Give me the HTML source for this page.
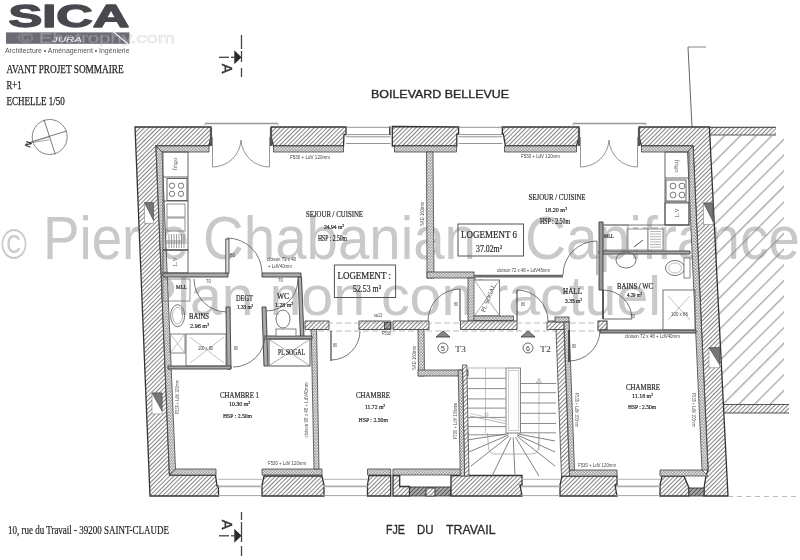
<!DOCTYPE html>
<html><head><meta charset="utf-8"><style>
html,body{margin:0;padding:0;background:#fff;width:800px;height:560px;overflow:hidden}
svg{display:block;filter:blur(0.3px)}
</style></head><body>
<svg width="800" height="560" viewBox="0 0 800 560">
<defs>
<pattern id="hat" patternUnits="userSpaceOnUse" width="3.0" height="3.0" patternTransform="rotate(45)">
<rect width="3.0" height="3.0" fill="#fff"/><line x1="0.5" y1="-1" x2="0.5" y2="4" stroke="#858585" stroke-width="1.05"/></pattern>
<pattern id="hatd" patternUnits="userSpaceOnUse" width="2.9" height="2.9" patternTransform="rotate(45)">
<rect width="2.9" height="2.9" fill="#b0b0b0"/><line x1="0.5" y1="-1" x2="0.5" y2="4" stroke="#555" stroke-width="1"/></pattern>
<pattern id="hat2" patternUnits="userSpaceOnUse" width="11.1" height="11.1" patternTransform="rotate(45)">
<line x1="9.06" y1="-1" x2="9.06" y2="12" stroke="#8a8a8a" stroke-width="1"/></pattern>
<pattern id="band" patternUnits="userSpaceOnUse" x="0" y="146.3" width="3" height="2.6">
<rect width="3" height="2.6" fill="#868686"/><circle cx="0.75" cy="1.3" r="0.85" fill="#f6f6f6"/><circle cx="2.25" cy="2.6" r="0.85" fill="#f6f6f6"/><circle cx="2.25" cy="0" r="0.85" fill="#f6f6f6"/></pattern>
<pattern id="bandv" patternUnits="userSpaceOnUse" x="0" y="0" width="2.6" height="3">
<rect width="2.6" height="3" fill="#868686"/><circle cx="1.3" cy="0.75" r="0.85" fill="#f6f6f6"/><circle cx="2.6" cy="2.25" r="0.85" fill="#f6f6f6"/><circle cx="0" cy="2.25" r="0.85" fill="#f6f6f6"/></pattern>
</defs>
<rect width="800" height="560" fill="#fff"/>
<text x="1" y="258.5" font-family="Liberation Sans" font-size="43" fill="#c9c9c9" text-anchor="start" textLength="26" lengthAdjust="spacingAndGlyphs" >©</text>
<text x="43" y="258.5" font-family="Liberation Sans" font-size="61" fill="#c9c9c9" text-anchor="start" textLength="146" lengthAdjust="spacingAndGlyphs" >Pierre</text>
<text x="203" y="258.5" font-family="Liberation Sans" font-size="61" fill="#c9c9c9" text-anchor="start" textLength="273" lengthAdjust="spacingAndGlyphs" >Chabanian</text>
<text x="525" y="258.5" font-family="Liberation Sans" font-size="61" fill="#c9c9c9" text-anchor="start" textLength="275" lengthAdjust="spacingAndGlyphs" >Capifrance</text>
<text x="139" y="314.5" font-family="Liberation Sans" font-size="56" fill="#c9c9c9" text-anchor="start" textLength="522" lengthAdjust="spacingAndGlyphs" >Plan non contractuel</text>
<g transform="matrix(1 0 0.0 1 -0.000 0)">
<polygon points="709,127 776,127 776,135 709.4,135" fill="url(#hat)" stroke="none" stroke-width="0" />
<line x1="709" y1="127.3" x2="776" y2="127.3" stroke="#333" stroke-width="1.1" />
<line x1="709.4" y1="135" x2="776" y2="135" stroke="#444" stroke-width="0.9" />
<polygon points="709.4,135 784,135 784,404 722.5,404" fill="url(#hat2)" stroke="none"/>
<polygon points="722.5,404.5 789,404.5 789,413 723,413" fill="url(#hat)" stroke="none" stroke-width="0" />
<line x1="722.5" y1="404.5" x2="789" y2="404.5" stroke="#444" stroke-width="0.9" />
<line x1="723" y1="413" x2="789" y2="413" stroke="#444" stroke-width="0.9" />
<polygon points="135,127 211,127 211,137 209,146 156,146 169.5,475 215.5,475 217,486 218.5,486 218.5,496 150,496" fill="url(#hat)" stroke="#333" stroke-width="1.3" />
<polygon points="271,127 346,127 346,134.5 344,134.5 343.5,146 273.5,146 271,137" fill="url(#hat)" stroke="#333" stroke-width="1.3" />
<polygon points="392.3,126.5 458.6,127 458.6,134.2 456.8,134.2 456.8,146 392.3,146" fill="url(#hat)" stroke="#333" stroke-width="1.3" />
<polygon points="502.3,127 579,127 579,137 576.5,146 505.4,146 503.4,134.2 502.3,134.2" fill="url(#hat)" stroke="#333" stroke-width="1.3" />
<polygon points="639,127 709.4,127 728,496 704,496 704,488 706,476 708,470 693,146 641.5,146 639,137" fill="url(#hat)" stroke="#333" stroke-width="1.3" />
<polygon points="262,496 262,485 264,476 322,476 324,485 324,496" fill="url(#hat)" stroke="#333" stroke-width="1.3" />
<polygon points="367.5,496 367.5,485 369,475.5 390.7,475.5 390.7,496" fill="url(#hat)" stroke="#333" stroke-width="1.3" />
<polygon points="393,475.5 399.7,475.5 399.7,486.5 409.5,486.5 409.5,496 393,496" fill="url(#hat)" stroke="#333" stroke-width="1.3" />
<polygon points="409.5,487 451,487 451,496 409.5,496" fill="url(#hatd)" stroke="#333" stroke-width="0.9" />
<rect x="426" y="488" width="9" height="8" fill="url(#hat)" stroke="#333" stroke-width="0.9" />
<polygon points="451,475.5 522,475.5 522,485 520,485 522,496 451,496" fill="url(#hat)" stroke="#333" stroke-width="1.3" />
<polygon points="560,496 560,485 562,476 617,476 617,485 615,485 617,496" fill="url(#hat)" stroke="#333" stroke-width="1.3" />
<polygon points="660,496 660,485 662,476 684,476 689,488 689,496" fill="url(#hat)" stroke="#333" stroke-width="1.3" />
<polygon points="689,488 704,488 704,496 689,496" fill="url(#hatd)" stroke="#333" stroke-width="0.9" />
<polygon points="156,146 209,146 209,152 162,152" fill="url(#band)" stroke="#444" stroke-width="0.8" />
<polygon points="273.5,146 343.5,146 343.5,152 273.5,152" fill="url(#band)" stroke="#444" stroke-width="0.8" />
<polygon points="394.5,146 456.5,146 456.5,152 394.5,152" fill="url(#band)" stroke="#444" stroke-width="0.8" />
<polygon points="504.5,146 576.5,146 576.5,152 504.5,152" fill="url(#band)" stroke="#444" stroke-width="0.8" />
<polygon points="641.5,146 693,146 687.5,152 641.5,152" fill="url(#band)" stroke="#444" stroke-width="0.8" />
<polygon points="156,146 162,152 175.5,469 169.5,475" fill="url(#bandv)" stroke="#444" stroke-width="0.8" />
<polygon points="693,146 708,470 702,470 687.5,152" fill="url(#bandv)" stroke="#444" stroke-width="0.8" />
<polygon points="169.5,475 175.5,469 216,469 216,475" fill="url(#band)" stroke="#444" stroke-width="0.8" />
<polygon points="262,469 322,469 322,475 262,475" fill="url(#band)" stroke="#444" stroke-width="0.8" />
<polygon points="367.5,469 390.7,469 390.7,475 367.5,475" fill="url(#band)" stroke="#444" stroke-width="0.8" />
<polygon points="393,469 465,469 465,475 393,475" fill="url(#band)" stroke="#444" stroke-width="0.8" />
<polygon points="569,470 617,470 617,476 569,476" fill="url(#band)" stroke="#444" stroke-width="0.8" />
<polygon points="660,470 702,470 708,476 660,476" fill="url(#band)" stroke="#444" stroke-width="0.8" />
</g>
<g transform="matrix(1 0 0.0 1 -0.000 0)">
<line x1="346" y1="127.3" x2="390.5" y2="127.3" stroke="#888" stroke-width="0.9" />
<line x1="346" y1="134.6" x2="390.5" y2="134.6" stroke="#888" stroke-width="0.9" />
<line x1="346" y1="136.8" x2="390.5" y2="136.8" stroke="#888" stroke-width="0.9" />
<line x1="346" y1="143.5" x2="390.5" y2="143.5" stroke="#888" stroke-width="0.9" />
<line x1="458.6" y1="127.3" x2="502.3" y2="127.3" stroke="#888" stroke-width="0.9" />
<line x1="458.6" y1="134.6" x2="502.3" y2="134.6" stroke="#888" stroke-width="0.9" />
<line x1="458.6" y1="136.8" x2="502.3" y2="136.8" stroke="#888" stroke-width="0.9" />
<line x1="458.6" y1="143.5" x2="502.3" y2="143.5" stroke="#888" stroke-width="0.9" />
<line x1="389.8" y1="126.5" x2="389.8" y2="135" stroke="#444" stroke-width="1.5" />
<line x1="218" y1="479.3" x2="262" y2="479.3" stroke="#aaa" stroke-width="0.9" />
<line x1="218" y1="486.4" x2="262" y2="486.4" stroke="#b0b0b0" stroke-width="1.8" />
<line x1="218" y1="495.6" x2="262" y2="495.6" stroke="#999" stroke-width="0.9" />
<line x1="323" y1="479.3" x2="367.5" y2="479.3" stroke="#aaa" stroke-width="0.9" />
<line x1="323" y1="486.4" x2="367.5" y2="486.4" stroke="#b0b0b0" stroke-width="1.8" />
<line x1="323" y1="495.6" x2="367.5" y2="495.6" stroke="#999" stroke-width="0.9" />
<line x1="521" y1="479.3" x2="560" y2="479.3" stroke="#aaa" stroke-width="0.9" />
<line x1="521" y1="486.4" x2="560" y2="486.4" stroke="#b0b0b0" stroke-width="1.8" />
<line x1="521" y1="495.6" x2="560" y2="495.6" stroke="#999" stroke-width="0.9" />
<line x1="616" y1="479.3" x2="660" y2="479.3" stroke="#aaa" stroke-width="0.9" />
<line x1="616" y1="486.4" x2="660" y2="486.4" stroke="#b0b0b0" stroke-width="1.8" />
<line x1="616" y1="495.6" x2="660" y2="495.6" stroke="#999" stroke-width="0.9" />
<line x1="205" y1="123.5" x2="278" y2="123.5" stroke="#999" stroke-width="1.3" />
<line x1="211" y1="128" x2="211" y2="146" stroke="#555" stroke-width="2.2" />
<line x1="271" y1="128" x2="271" y2="146" stroke="#555" stroke-width="2.2" />
<line x1="212.5" y1="137" x2="212.5" y2="167" stroke="#999" stroke-width="1.0" />
<line x1="269.5" y1="137" x2="269.5" y2="167" stroke="#999" stroke-width="1.0" />
<line x1="205" y1="123.5" x2="205" y2="127" stroke="#aaa" stroke-width="0.8" />
<line x1="278" y1="123.5" x2="278" y2="127" stroke="#aaa" stroke-width="0.8" />
<path d="M212.5,167 A28.5,28.5 0 0 0 241,140" stroke="#888" stroke-width="0.9" fill="none" />
<path d="M269.5,167 A28.5,28.5 0 0 1 241,140" stroke="#888" stroke-width="0.9" fill="none" />
<line x1="573" y1="123.5" x2="646" y2="123.5" stroke="#999" stroke-width="1.3" />
<line x1="579" y1="128" x2="579" y2="146" stroke="#555" stroke-width="2.2" />
<line x1="639" y1="128" x2="639" y2="146" stroke="#555" stroke-width="2.2" />
<line x1="580.5" y1="137" x2="580.5" y2="167" stroke="#999" stroke-width="1.0" />
<line x1="637.5" y1="137" x2="637.5" y2="167" stroke="#999" stroke-width="1.0" />
<line x1="573" y1="123.5" x2="573" y2="127" stroke="#aaa" stroke-width="0.8" />
<line x1="646" y1="123.5" x2="646" y2="127" stroke="#aaa" stroke-width="0.8" />
<path d="M580.5,167 A28.5,28.5 0 0 0 609,140" stroke="#888" stroke-width="0.9" fill="none" />
<path d="M637.5,167 A28.5,28.5 0 0 1 609,140" stroke="#888" stroke-width="0.9" fill="none" />
<polygon points="426.5,152 433,152 434,278 427,278" fill="url(#bandv)" stroke="#444" stroke-width="0.8" />
<rect x="427" y="272" width="47" height="6" fill="url(#band)" stroke="#444" stroke-width="0.8" />
<rect x="468" y="278" width="7" height="43" fill="url(#bandv)" stroke="#444" stroke-width="0.8" />
<line x1="474" y1="276.2" x2="563" y2="276.2" stroke="#6a6a6a" stroke-width="2.8" />
<rect x="474" y="280" width="25.6" height="36" fill="#fff" stroke="#666" stroke-width="0.9" />
<line x1="475" y1="281" x2="499" y2="315" stroke="#888" stroke-width="0.7" />
<line x1="499" y1="281" x2="475" y2="315" stroke="#888" stroke-width="0.7" />
<rect x="474" y="316" width="39.6" height="4.4" fill="url(#band)" stroke="#444" stroke-width="0.8" />
<polygon points="305,321 329,321 329,329.5 305,329.5" fill="url(#hat)" stroke="#444" stroke-width="0.9" />
<polygon points="359,321 391,321 391,329.5 359,329.5" fill="url(#hat)" stroke="#444" stroke-width="0.9" />
<polygon points="393,321 429,321 429,329.5 393,329.5" fill="url(#hat)" stroke="#444" stroke-width="0.9" />
<polygon points="460.5,321 517,321 517,329.5 460.5,329.5" fill="url(#hat)" stroke="#444" stroke-width="0.9" />
<polygon points="548.5,321 569,321 569,329.5 548.5,329.5" fill="url(#hat)" stroke="#444" stroke-width="0.9" />
<rect x="598" y="321" width="9" height="9" fill="url(#hat)" stroke="#333" stroke-width="1.0" />
<line x1="300" y1="323" x2="600" y2="323" stroke="#aaa" stroke-width="0.8" stroke-dasharray="6 3"/>
<line x1="300" y1="331" x2="600" y2="331" stroke="#aaa" stroke-width="0.8" stroke-dasharray="6 3"/>
<polygon points="311.2,329.5 316.6,329.5 319,469 314,469" fill="url(#bandv)" stroke="#444" stroke-width="0.8" />
<polygon points="418,329.5 424,329.5 424.5,376 418.5,376" fill="url(#bandv)" stroke="#444" stroke-width="0.8" />
<rect x="418" y="370" width="50" height="6" fill="url(#band)" stroke="#444" stroke-width="0.8" />
<polygon points="462.5,365 466.8,365 469,476 464.6,476" fill="url(#hat)" stroke="#444" stroke-width="0.8" />
<polygon points="458.2,370 462.5,370 464.6,476 460.3,476" fill="url(#bandv)" stroke="#444" stroke-width="0.8" />
<rect x="547" y="322" width="17" height="7.5" fill="url(#hat)" stroke="#444" stroke-width="0.8" />
<rect x="555" y="317" width="14" height="5" fill="url(#band)" stroke="#444" stroke-width="0.8" />
<polygon points="556,329.5 564,329.5 569.5,476 561.5,476" fill="url(#hat)" stroke="#444" stroke-width="0.8" />
<polygon points="564,322 569,322 574.5,470 569.5,470" fill="url(#bandv)" stroke="#444" stroke-width="0.8" />
<line x1="569" y1="330" x2="569" y2="362" stroke="#333" stroke-width="1.6" />
<polygon points="163,273 228,273 228,277 163,277" fill="#aaa" stroke="#3a3a3a" stroke-width="0.9" />
<polygon points="262,273 301,273 301,277 262,277" fill="#aaa" stroke="#3a3a3a" stroke-width="0.9" />
<rect x="225.8" y="239" width="3.2" height="34" fill="#ddd" stroke="#333" stroke-width="0.8" />
<polygon points="298,277 301.5,277 304,338 300.5,338" fill="#aaa" stroke="#3a3a3a" stroke-width="0.9" />
<polygon points="226,307 230,307 231,369 227,369" fill="#aaa" stroke="#3a3a3a" stroke-width="0.9" />
<polygon points="262,307 266,307 268,366 264,366" fill="#aaa" stroke="#3a3a3a" stroke-width="0.9" />
<polygon points="168,366 231,366 231,369 168,369" fill="#aaa" stroke="#3a3a3a" stroke-width="0.9" />
<polygon points="266,336 312,336 312,339 266,339" fill="#aaa" stroke="#3a3a3a" stroke-width="0.9" />
<rect x="269" y="339" width="41" height="27" fill="none" stroke="#555" stroke-width="1.0" />
<line x1="270" y1="340" x2="309" y2="365" stroke="#888" stroke-width="0.7" />
<line x1="309" y1="340" x2="270" y2="365" stroke="#888" stroke-width="0.7" />
<rect x="163" y="152" width="25" height="98" fill="none" stroke="#555" stroke-width="0.9" />
<line x1="163" y1="177" x2="188" y2="177" stroke="#555" stroke-width="0.9" />
<rect x="167" y="178.5" width="20" height="22" fill="none" stroke="#555" stroke-width="0.9" />
<line x1="163" y1="201" x2="188" y2="201" stroke="#555" stroke-width="0.9" />
<rect x="167" y="204" width="18" height="13" fill="none" stroke="#777" stroke-width="0.8" />
<rect x="167" y="218" width="18" height="13" fill="none" stroke="#777" stroke-width="0.8" />
<line x1="163" y1="250" x2="188" y2="250" stroke="#555" stroke-width="0.9" />
<rect x="163" y="250" width="25" height="23" fill="none" stroke="#555" stroke-width="0.9" />
<line x1="169" y1="234" x2="169" y2="248" stroke="#777" stroke-width="0.7" />
<line x1="171.5" y1="234" x2="171.5" y2="248" stroke="#777" stroke-width="0.7" />
<line x1="174" y1="234" x2="174" y2="248" stroke="#777" stroke-width="0.7" />
<line x1="176.5" y1="234" x2="176.5" y2="248" stroke="#777" stroke-width="0.7" />
<line x1="179" y1="234" x2="179" y2="248" stroke="#777" stroke-width="0.7" />
<line x1="181.5" y1="234" x2="181.5" y2="248" stroke="#777" stroke-width="0.7" />
<line x1="184" y1="234" x2="184" y2="248" stroke="#777" stroke-width="0.7" />
<rect x="665" y="152" width="24" height="73" fill="none" stroke="#555" stroke-width="0.9" />
<line x1="665" y1="178" x2="689" y2="178" stroke="#555" stroke-width="0.9" />
<rect x="666" y="180" width="20" height="21" fill="none" stroke="#555" stroke-width="0.9" />
<line x1="665" y1="202" x2="689" y2="202" stroke="#555" stroke-width="0.9" />
<line x1="600" y1="225" x2="690" y2="225" stroke="#666" stroke-width="0.9" />
<polygon points="599,251 690,251 690,254 599,254" fill="#aaa" stroke="#3a3a3a" stroke-width="0.9" />
<polygon points="599,222 603,222 603,290 599,290" fill="#999" stroke="#3a3a3a" stroke-width="0.9" />
<rect x="627" y="229" width="21" height="21" fill="#fff" stroke="#777" stroke-width="0.8" />
<rect x="648" y="229" width="15" height="21" fill="#fff" stroke="#777" stroke-width="0.8" />
<line x1="650" y1="231.5" x2="661" y2="231.5" stroke="#888" stroke-width="0.6" />
<line x1="650" y1="234.1" x2="661" y2="234.1" stroke="#888" stroke-width="0.6" />
<line x1="650" y1="236.7" x2="661" y2="236.7" stroke="#888" stroke-width="0.6" />
<line x1="650" y1="239.3" x2="661" y2="239.3" stroke="#888" stroke-width="0.6" />
<line x1="650" y1="241.9" x2="661" y2="241.9" stroke="#888" stroke-width="0.6" />
<line x1="650" y1="244.5" x2="661" y2="244.5" stroke="#888" stroke-width="0.6" />
<line x1="650" y1="247.1" x2="661" y2="247.1" stroke="#888" stroke-width="0.6" />
<line x1="634" y1="247" x2="643" y2="240" stroke="#555" stroke-width="1.0" />
<polygon points="600,330 696,330 696,333 600,333" fill="#999" stroke="#3a3a3a" stroke-width="0.9" />
<rect x="663" y="290" width="32" height="40" fill="none" stroke="#666" stroke-width="0.9" />
</g>
<rect x="384.5" y="322.5" width="6" height="6.5" fill="url(#hatd)" stroke="#333" stroke-width="0.8" />
<g transform="matrix(1 0 0.0 1 -0.000 0)">
<path d="M227,238 A35,35 0 0 1 262,273" stroke="#555" stroke-width="0.8" fill="none" />
<path d="M227,312 A33,33 0 0 1 194,279" stroke="#555" stroke-width="0.8" fill="none" />
<path d="M265,335 A32,32 0 0 1 233,367" stroke="#555" stroke-width="0.8" fill="none" />
<path d="M298,279 A32,32 0 0 1 266,311" stroke="#555" stroke-width="0.8" fill="none" />
<path d="M360,331 A29,29 0 0 1 331,360" stroke="#555" stroke-width="0.8" fill="none" />
<line x1="331" y1="331" x2="331" y2="361" stroke="#444" stroke-width="1.2" />
<path d="M428,321 A32,32 0 0 1 460,289" stroke="#555" stroke-width="0.8" fill="none" />
<line x1="460" y1="289" x2="460" y2="321" stroke="#444" stroke-width="1.1" />
<path d="M517,290 A31,31 0 0 1 548,321" stroke="#555" stroke-width="0.8" fill="none" />
<line x1="517" y1="290" x2="517" y2="321" stroke="#444" stroke-width="1.1" />
<path d="M600,330 A31,31 0 0 1 569,361" stroke="#555" stroke-width="0.8" fill="none" />
<path d="M603,290 A29,29 0 0 1 632,319" stroke="#555" stroke-width="0.8" fill="none" />
<line x1="603" y1="290" x2="603" y2="319" stroke="#333" stroke-width="1.6" />
<line x1="603" y1="319" x2="632" y2="319" stroke="#555" stroke-width="0.9" />
<path d="M563,275 A34,34 0 0 1 597,241" stroke="#555" stroke-width="0.8" fill="none" />
<line x1="597" y1="241" x2="597" y2="275" stroke="#666" stroke-width="0.9" />
<ellipse cx="177.6" cy="315.7" rx="7" ry="11" fill="none" stroke="#666" stroke-width="0.9"/>
<ellipse cx="177.6" cy="315.7" rx="5" ry="8.5" fill="none" stroke="#888" stroke-width="0.6"/>
<ellipse cx="283" cy="319" rx="7" ry="9" fill="none" stroke="#666" stroke-width="0.9"/>
<rect x="276" y="329" width="20" height="7" fill="#fff" stroke="#666" stroke-width="0.8" />
<ellipse cx="626" cy="260" rx="10" ry="8" fill="none" stroke="#666" stroke-width="0.9"/>
<ellipse cx="675" cy="268" rx="9.5" ry="7.5" fill="#fff" stroke="#666" stroke-width="0.9"/>
<ellipse cx="675" cy="268" rx="6.5" ry="5" fill="none" stroke="#999" stroke-width="0.6"/>
<rect x="684" y="258" width="6" height="20" fill="#fff" stroke="#666" stroke-width="0.8" />
<circle cx="172" cy="185.7" r="2.7" fill="none" stroke="#555" stroke-width="0.8"/>
<circle cx="181" cy="185.7" r="2.7" fill="none" stroke="#555" stroke-width="0.8"/>
<circle cx="172" cy="193.8" r="2.7" fill="none" stroke="#555" stroke-width="0.8"/>
<circle cx="181" cy="193.8" r="2.7" fill="none" stroke="#555" stroke-width="0.8"/>
<circle cx="673" cy="186" r="2.9" fill="none" stroke="#555" stroke-width="0.8"/>
<circle cx="682" cy="186" r="2.9" fill="none" stroke="#555" stroke-width="0.8"/>
<circle cx="673" cy="195" r="2.9" fill="none" stroke="#555" stroke-width="0.8"/>
<circle cx="682" cy="195" r="2.9" fill="none" stroke="#555" stroke-width="0.8"/>
<rect x="186" y="334" width="40" height="32" fill="none" stroke="#666" stroke-width="0.9" />
<line x1="190" y1="337" x2="224" y2="363" stroke="#999" stroke-width="0.6" />
<line x1="224" y1="337" x2="190" y2="363" stroke="#999" stroke-width="0.6" />
<rect x="170" y="334" width="15" height="19" fill="none" stroke="#666" stroke-width="0.8" />
<line x1="171" y1="335" x2="184" y2="352" stroke="#999" stroke-width="0.6" />
<line x1="184" y1="335" x2="171" y2="352" stroke="#999" stroke-width="0.6" />
<line x1="668" y1="296" x2="690" y2="320" stroke="#999" stroke-width="0.6" />
<line x1="690" y1="296" x2="668" y2="320" stroke="#999" stroke-width="0.6" />
<rect x="163" y="279" width="27" height="22" fill="none" stroke="#777" stroke-width="0.8" />
<rect x="603" y="225" width="25" height="25" fill="none" stroke="#777" stroke-width="0.8" />
<rect x="665" y="203" width="24" height="22" fill="none" stroke="#555" stroke-width="0.9" />
<rect x="144.5" y="202.7" width="8.9" height="20.5" fill="#fff" stroke="#888" stroke-width="0.6" />
<polygon points="144.5,202.7 153.4,202.7 153.4,220.2" fill="#777" stroke="#444" stroke-width="0.6"/>
<rect x="152" y="393" width="10" height="21" fill="#fff" stroke="#888" stroke-width="0.6" />
<polygon points="152,393 162,393 162,411" fill="#777" stroke="#444" stroke-width="0.6"/>
<rect x="703.6" y="203" width="9.4" height="21.4" fill="#fff" stroke="#888" stroke-width="0.6" />
<polygon points="703.6,203 713,203 713,221.4" fill="#777" stroke="#444" stroke-width="0.6"/>
<rect x="709" y="347.7" width="10.7" height="20.1" fill="#fff" stroke="#888" stroke-width="0.6" />
<polygon points="709,347.7 719.7,347.7 719.7,364.8" fill="#777" stroke="#444" stroke-width="0.6"/>
<line x1="467" y1="378.3" x2="505.7" y2="378.3" stroke="#777" stroke-width="0.85" />
<line x1="467" y1="388.6" x2="505.7" y2="388.6" stroke="#777" stroke-width="0.85" />
<line x1="467" y1="398.9" x2="505.7" y2="398.9" stroke="#777" stroke-width="0.85" />
<line x1="467" y1="408.1" x2="505.7" y2="408.1" stroke="#777" stroke-width="0.85" />
<line x1="467" y1="417.4" x2="505.7" y2="417.4" stroke="#777" stroke-width="0.85" />
<line x1="467" y1="426.6" x2="505.7" y2="426.6" stroke="#777" stroke-width="0.85" />
<line x1="467" y1="434.8" x2="505.7" y2="434.8" stroke="#777" stroke-width="0.85" />
<line x1="520.5" y1="383.5" x2="556" y2="383.5" stroke="#777" stroke-width="0.85" />
<line x1="520.5" y1="392.7" x2="556" y2="392.7" stroke="#777" stroke-width="0.85" />
<line x1="520.5" y1="403" x2="556" y2="403" stroke="#777" stroke-width="0.85" />
<line x1="520.5" y1="413.3" x2="556" y2="413.3" stroke="#777" stroke-width="0.85" />
<line x1="520.5" y1="423.5" x2="556" y2="423.5" stroke="#777" stroke-width="0.85" />
<line x1="520.5" y1="432.8" x2="556" y2="432.8" stroke="#777" stroke-width="0.85" />
<line x1="467" y1="368" x2="505.7" y2="368" stroke="#999" stroke-width="0.7" />
<rect x="506" y="368" width="14.5" height="65" fill="#fff" stroke="#777" stroke-width="0.9" />
<rect x="508.3" y="370.5" width="10.5" height="60" fill="none" stroke="#aaa" stroke-width="0.6" />
<line x1="508.4" y1="433.7" x2="467" y2="440" stroke="#6c6c6c" stroke-width="0.85" />
<line x1="508.6" y1="434.9" x2="469" y2="452" stroke="#6c6c6c" stroke-width="0.85" />
<line x1="508.8" y1="436.3" x2="471" y2="466" stroke="#6c6c6c" stroke-width="0.85" />
<line x1="510.9" y1="437.3" x2="492" y2="476" stroke="#6c6c6c" stroke-width="0.85" />
<line x1="513.2" y1="437.3" x2="515" y2="476" stroke="#6c6c6c" stroke-width="0.85" />
<line x1="515.6" y1="437.3" x2="539" y2="476" stroke="#6c6c6c" stroke-width="0.85" />
<line x1="517.2" y1="436.3" x2="555" y2="466" stroke="#6c6c6c" stroke-width="0.85" />
<line x1="517.2" y1="434.9" x2="555" y2="452" stroke="#6c6c6c" stroke-width="0.85" />
<line x1="517.2" y1="433.8" x2="555" y2="441" stroke="#6c6c6c" stroke-width="0.85" />
<path d="M487.5,433 L488.5,448 Q489,454 495,454 L531,454 Q538,454 538.5,448 L539,433" stroke="#9a9a9a" stroke-width="0.7" fill="none" />
<line x1="485.5" y1="368" x2="485.5" y2="433" stroke="#999" stroke-width="0.6" />
<line x1="539" y1="379" x2="539" y2="450" stroke="#999" stroke-width="0.6" />
<polygon points="536.5,383 539,378.5 541.5,383" fill="none" stroke="#888" stroke-width="0.6"/>
<line x1="470" y1="416" x2="505" y2="423.5" stroke="#999" stroke-width="0.7" />
<line x1="470" y1="413.5" x2="505" y2="421" stroke="#aaa" stroke-width="0.6" />
<circle cx="486.6" cy="414.5" r="1.6" fill="none" stroke="#888" stroke-width="0.6"/>
</g>
<line x1="688" y1="47" x2="692" y2="127" stroke="#555" stroke-width="0.9" />
<line x1="688" y1="47" x2="706" y2="47" stroke="#777" stroke-width="0.9" />
<line x1="728" y1="496.5" x2="796" y2="496.5" stroke="#aaa" stroke-width="0.8" stroke-dasharray="5 4"/>
<text x="8.4" y="27" font-family="Liberation Sans" font-size="30.5" fill="#48484f" text-anchor="start" textLength="121" lengthAdjust="spacingAndGlyphs" font-weight="bold" stroke="#48484f" stroke-width="1.3" stroke-linejoin="round">SICA</text>
<rect x="6" y="32.4" width="123.5" height="11.4" fill="#6b6b75" stroke="none" stroke-width="1.0" />
<text x="52" y="41.8" font-family="Liberation Sans" font-size="7.5" fill="#fff" text-anchor="start" textLength="30" lengthAdjust="spacingAndGlyphs" font-style="italic">JURA</text>
<line x1="113" y1="31.5" x2="128" y2="44" stroke="#fff" stroke-width="1.1" />
<text x="5" y="52.8" font-family="Liberation Sans" font-size="7.4" fill="#555" text-anchor="start" textLength="124.5" lengthAdjust="spacingAndGlyphs" >Architecture • Aménagement • Ingénierie</text>
<text x="18" y="42.5" font-family="Liberation Sans" font-size="15" fill="#fff" text-anchor="start" textLength="157" lengthAdjust="spacingAndGlyphs" opacity="0.35" stroke="#aaa" stroke-width="0.7">© Ehotrophy.com</text>
<text x="6.5" y="73.2" font-family="Liberation Serif" font-size="11.8" fill="#222" text-anchor="start" textLength="117.2" lengthAdjust="spacingAndGlyphs" stroke="#222" stroke-width="0.25">AVANT PROJET SOMMAIRE</text>
<text x="6.5" y="89" font-family="Liberation Serif" font-size="11.8" fill="#222" text-anchor="start" textLength="15" lengthAdjust="spacingAndGlyphs" stroke="#222" stroke-width="0.25">R+1</text>
<text x="6.5" y="105" font-family="Liberation Serif" font-size="11.8" fill="#222" text-anchor="start" textLength="58.2" lengthAdjust="spacingAndGlyphs" stroke="#222" stroke-width="0.25">ECHELLE 1/50</text>
<circle cx="49.7" cy="137" r="17.5" fill="none" stroke="#777" stroke-width="0.9"/>
<line x1="44" y1="119.7" x2="55.3" y2="154.3" stroke="#555" stroke-width="0.8" />
<line x1="26" y1="143.5" x2="66.5" y2="131" stroke="#555" stroke-width="0.8" />
<line x1="29" y1="143" x2="49.7" y2="137" stroke="#777" stroke-width="0.6" />
<line x1="29" y1="143" x2="49" y2="140" stroke="#777" stroke-width="0.6" />
<text transform="translate(28.5,144.5) rotate(-68)" font-family="Liberation Sans" font-size="8" fill="#222" stroke="#222" stroke-width="0.3" text-anchor="middle" dominant-baseline="central">N</text>
<line x1="241.5" y1="35" x2="241.5" y2="49" stroke="#444" stroke-width="1.3" />
<line x1="241.5" y1="51" x2="241.5" y2="62" stroke="#444" stroke-width="1.3" />
<line x1="241.5" y1="68" x2="241.5" y2="77" stroke="#444" stroke-width="1.3" />
<polygon points="241.5,57.3 234.3,50.3 234.3,64.3" fill="#2a2a2a"/>
<line x1="219" y1="57.3" x2="229" y2="57.3" stroke="#444" stroke-width="1.3" />
<line x1="231" y1="57.3" x2="236" y2="57.3" stroke="#444" stroke-width="1.3" />
<text transform="translate(226.5,68.5) rotate(90)" x="0" y="0" font-family="Liberation Sans" font-size="14.5" fill="#333" stroke="#333" stroke-width="0.5" text-anchor="middle" dominant-baseline="central">A</text>
<line x1="241.5" y1="512" x2="241.5" y2="520" stroke="#444" stroke-width="1.3" />
<line x1="241.5" y1="522" x2="241.5" y2="542" stroke="#444" stroke-width="1.3" />
<line x1="241.5" y1="546" x2="241.5" y2="556" stroke="#444" stroke-width="1.3" />
<polygon points="241.5,535.8 234.3,528.8 234.3,542.8" fill="#2a2a2a"/>
<line x1="219" y1="535.8" x2="229" y2="535.8" stroke="#444" stroke-width="1.3" />
<line x1="231" y1="535.8" x2="236" y2="535.8" stroke="#444" stroke-width="1.3" />
<text transform="translate(226.5,524.7) rotate(90)" x="0" y="0" font-family="Liberation Sans" font-size="14.5" fill="#333" stroke="#333" stroke-width="0.5" text-anchor="middle" dominant-baseline="central">A</text>
<text x="371" y="98.2" font-family="Liberation Sans" font-size="11" fill="#2a2a2a" text-anchor="start" textLength="138" lengthAdjust="spacingAndGlyphs" stroke="#2a2a2a" stroke-width="0.35">BOILEVARD BELLEVUE</text>
<text x="386" y="534.2" font-family="Liberation Sans" font-size="12.6" fill="#2a2a2a" text-anchor="start" textLength="19" lengthAdjust="spacingAndGlyphs" stroke="#2a2a2a" stroke-width="0.3">FJE</text>
<text x="417" y="534.2" font-family="Liberation Sans" font-size="12.6" fill="#2a2a2a" text-anchor="start" textLength="16.5" lengthAdjust="spacingAndGlyphs" stroke="#2a2a2a" stroke-width="0.3">DU</text>
<text x="446" y="534.2" font-family="Liberation Sans" font-size="12.6" fill="#2a2a2a" text-anchor="start" textLength="49.5" lengthAdjust="spacingAndGlyphs" stroke="#2a2a2a" stroke-width="0.3">TRAVAIL</text>
<text x="8" y="534" font-family="Liberation Serif" font-size="12" fill="#222" text-anchor="start" textLength="161" lengthAdjust="spacingAndGlyphs" stroke="#222" stroke-width="0.2">10, rue du Travail - 39200 SAINT-CLAUDE</text>
<text x="306" y="217.2" font-family="Liberation Serif" font-size="9" fill="#2a2a2a" text-anchor="start" textLength="57" lengthAdjust="spacingAndGlyphs" stroke="#2a2a2a" stroke-width="0.22">SEJOUR / CUISINE</text>
<text x="324" y="229.2" font-family="Liberation Serif" font-size="6.8" fill="#2a2a2a" text-anchor="start" textLength="20" lengthAdjust="spacingAndGlyphs" stroke="#2a2a2a" stroke-width="0.22">24.94 m²</text>
<text x="318" y="241.2" font-family="Liberation Serif" font-size="7.2" fill="#2a2a2a" text-anchor="start" textLength="29" lengthAdjust="spacingAndGlyphs" stroke="#2a2a2a" stroke-width="0.22">HSP : 2.50m</text>
<rect x="334.4" y="265" width="61.2" height="32.5" fill="none" stroke="#555" stroke-width="1.0" />
<text x="337.6" y="279.4" font-family="Liberation Serif" font-size="11" fill="#2a2a2a" text-anchor="start" textLength="53.4" lengthAdjust="spacingAndGlyphs" stroke="#2a2a2a" stroke-width="0.22">LOGEMENT :</text>
<text x="353" y="291.8" font-family="Liberation Serif" font-size="10.5" fill="#2a2a2a" text-anchor="start" textLength="28" lengthAdjust="spacingAndGlyphs" stroke="#2a2a2a" stroke-width="0.22">52.53 m²</text>
<text x="236" y="300.8" font-family="Liberation Serif" font-size="8" fill="#2a2a2a" text-anchor="start" textLength="17" lengthAdjust="spacingAndGlyphs" stroke="#2a2a2a" stroke-width="0.22">DEGT</text>
<text x="237" y="308.8" font-family="Liberation Serif" font-size="6.5" fill="#2a2a2a" text-anchor="start" textLength="16" lengthAdjust="spacingAndGlyphs" stroke="#2a2a2a" stroke-width="0.22">1.33 m²</text>
<text x="277" y="298.8" font-family="Liberation Serif" font-size="8" fill="#2a2a2a" text-anchor="start" textLength="12" lengthAdjust="spacingAndGlyphs" stroke="#2a2a2a" stroke-width="0.22">WC</text>
<text x="275" y="306.8" font-family="Liberation Serif" font-size="6.5" fill="#2a2a2a" text-anchor="start" textLength="18" lengthAdjust="spacingAndGlyphs" stroke="#2a2a2a" stroke-width="0.22">1.28 m²</text>
<text x="176" y="289.3" font-family="Liberation Serif" font-size="6" fill="#2a2a2a" text-anchor="start" textLength="11" lengthAdjust="spacingAndGlyphs" stroke="#2a2a2a" stroke-width="0.22">MLL</text>
<text x="189" y="318.8" font-family="Liberation Serif" font-size="8.3" fill="#2a2a2a" text-anchor="start" textLength="20" lengthAdjust="spacingAndGlyphs" stroke="#2a2a2a" stroke-width="0.22">BAINS</text>
<text x="190" y="327.8" font-family="Liberation Serif" font-size="7" fill="#2a2a2a" text-anchor="start" textLength="19" lengthAdjust="spacingAndGlyphs" stroke="#2a2a2a" stroke-width="0.22">2.96 m²</text>
<text x="278" y="354.8" font-family="Liberation Serif" font-size="7.5" fill="#2a2a2a" text-anchor="start" textLength="27" lengthAdjust="spacingAndGlyphs" stroke="#2a2a2a" stroke-width="0.22">PL SOGAL</text>
<text x="220" y="398.2" font-family="Liberation Serif" font-size="9" fill="#2a2a2a" text-anchor="start" textLength="39" lengthAdjust="spacingAndGlyphs" stroke="#2a2a2a" stroke-width="0.22">CHAMBRE 1</text>
<text x="229" y="406.3" font-family="Liberation Serif" font-size="6.5" fill="#2a2a2a" text-anchor="start" textLength="21" lengthAdjust="spacingAndGlyphs" stroke="#2a2a2a" stroke-width="0.22">10.30 m²</text>
<text x="223" y="417.5" font-family="Liberation Serif" font-size="7" fill="#2a2a2a" text-anchor="start" textLength="29" lengthAdjust="spacingAndGlyphs" stroke="#2a2a2a" stroke-width="0.22">HSP : 2.50m</text>
<text x="356" y="397.8" font-family="Liberation Serif" font-size="9" fill="#2a2a2a" text-anchor="start" textLength="34" lengthAdjust="spacingAndGlyphs" stroke="#2a2a2a" stroke-width="0.22">CHAMBRE</text>
<text x="365" y="409.3" font-family="Liberation Serif" font-size="6.5" fill="#2a2a2a" text-anchor="start" textLength="20" lengthAdjust="spacingAndGlyphs" stroke="#2a2a2a" stroke-width="0.22">11.72 m²</text>
<text x="358.5" y="422" font-family="Liberation Serif" font-size="7" fill="#2a2a2a" text-anchor="start" textLength="29.5" lengthAdjust="spacingAndGlyphs" stroke="#2a2a2a" stroke-width="0.22">HSP : 2.50m</text>
<rect x="458" y="224" width="65.5" height="32" fill="none" stroke="#555" stroke-width="1.0" />
<text x="461" y="238.3" font-family="Liberation Serif" font-size="11" fill="#2a2a2a" text-anchor="start" textLength="56" lengthAdjust="spacingAndGlyphs" stroke="#2a2a2a" stroke-width="0.22">LOGEMENT 6</text>
<text x="476" y="252.3" font-family="Liberation Serif" font-size="10.5" fill="#2a2a2a" text-anchor="start" textLength="26" lengthAdjust="spacingAndGlyphs" stroke="#2a2a2a" stroke-width="0.22">37.02m²</text>
<text x="528.6" y="199.6" font-family="Liberation Serif" font-size="9" fill="#2a2a2a" text-anchor="start" textLength="56.9" lengthAdjust="spacingAndGlyphs" stroke="#2a2a2a" stroke-width="0.22">SEJOUR / CUISINE</text>
<text x="545" y="212.3" font-family="Liberation Serif" font-size="6.8" fill="#2a2a2a" text-anchor="start" textLength="22" lengthAdjust="spacingAndGlyphs" stroke="#2a2a2a" stroke-width="0.22">18.20 m²</text>
<text x="540" y="224.3" font-family="Liberation Serif" font-size="7.2" fill="#2a2a2a" text-anchor="start" textLength="30" lengthAdjust="spacingAndGlyphs" stroke="#2a2a2a" stroke-width="0.22">HSP : 2.50m</text>
<text x="563" y="294.3" font-family="Liberation Serif" font-size="8" fill="#2a2a2a" text-anchor="start" textLength="19" lengthAdjust="spacingAndGlyphs" stroke="#2a2a2a" stroke-width="0.22">HALL</text>
<text x="565" y="302.8" font-family="Liberation Serif" font-size="6.5" fill="#2a2a2a" text-anchor="start" textLength="17" lengthAdjust="spacingAndGlyphs" stroke="#2a2a2a" stroke-width="0.22">3.35 m²</text>
<text x="617" y="289.3" font-family="Liberation Serif" font-size="8.3" fill="#2a2a2a" text-anchor="start" textLength="36" lengthAdjust="spacingAndGlyphs" stroke="#2a2a2a" stroke-width="0.22">BAINS / WC</text>
<text x="627" y="296.6" font-family="Liberation Serif" font-size="6.5" fill="#2a2a2a" text-anchor="start" textLength="15" lengthAdjust="spacingAndGlyphs" stroke="#2a2a2a" stroke-width="0.22">4.29 m²</text>
<text x="626" y="390.3" font-family="Liberation Serif" font-size="9" fill="#2a2a2a" text-anchor="start" textLength="34" lengthAdjust="spacingAndGlyphs" stroke="#2a2a2a" stroke-width="0.22">CHAMBRE</text>
<text x="632" y="397.8" font-family="Liberation Serif" font-size="6.5" fill="#2a2a2a" text-anchor="start" textLength="21" lengthAdjust="spacingAndGlyphs" stroke="#2a2a2a" stroke-width="0.22">11.18 m²</text>
<text x="628" y="409.3" font-family="Liberation Serif" font-size="7" fill="#2a2a2a" text-anchor="start" textLength="28" lengthAdjust="spacingAndGlyphs" stroke="#2a2a2a" stroke-width="0.22">HSP : 2.50m</text>
<text x="604" y="237.8" font-family="Liberation Serif" font-size="6" fill="#2a2a2a" text-anchor="start" textLength="10" lengthAdjust="spacingAndGlyphs" stroke="#2a2a2a" stroke-width="0.22">MLL</text>
<text x="290" y="158.5" font-family="Liberation Sans" font-size="5" fill="#444" text-anchor="start" textLength="40" lengthAdjust="spacingAndGlyphs" >F530 + LdV 120mm</text>
<text x="521" y="158" font-family="Liberation Sans" font-size="5" fill="#444" text-anchor="start" textLength="39" lengthAdjust="spacingAndGlyphs" >F530 + LdV 120mm</text>
<text x="268" y="465" font-family="Liberation Sans" font-size="5" fill="#444" text-anchor="start" textLength="38" lengthAdjust="spacingAndGlyphs" >F530 + LdV 120mm</text>
<text x="578" y="467" font-family="Liberation Sans" font-size="5" fill="#444" text-anchor="start" textLength="38" lengthAdjust="spacingAndGlyphs" >F530 + LdV 120mm</text>
<text x="267" y="261" font-family="Liberation Sans" font-size="5" fill="#444" text-anchor="start" textLength="29" lengthAdjust="spacingAndGlyphs" >cloison 72 x 48</text>
<text x="268" y="268" font-family="Liberation Sans" font-size="5" fill="#444" text-anchor="start" textLength="24" lengthAdjust="spacingAndGlyphs" >+ LdV40mm</text>
<text x="497" y="271.5" font-family="Liberation Sans" font-size="5" fill="#444" text-anchor="start" textLength="53" lengthAdjust="spacingAndGlyphs" >cloison 72 x 48 + LdV45mm</text>
<text x="625" y="338" font-family="Liberation Sans" font-size="5" fill="#444" text-anchor="start" textLength="55" lengthAdjust="spacingAndGlyphs" >cloison 72 x 48 + LdV40mm</text>
<text x="206" y="283" font-family="Liberation Sans" font-size="5" fill="#444" text-anchor="start" textLength="5" lengthAdjust="spacingAndGlyphs" >70</text>
<text x="278" y="282" font-family="Liberation Sans" font-size="5" fill="#444" text-anchor="start" textLength="5" lengthAdjust="spacingAndGlyphs" >70</text>
<text x="198" y="349.5" font-family="Liberation Sans" font-size="5" fill="#444" text-anchor="start" textLength="15" lengthAdjust="spacingAndGlyphs" >100 x 80</text>
<text x="671" y="316" font-family="Liberation Sans" font-size="5" fill="#444" text-anchor="start" textLength="17" lengthAdjust="spacingAndGlyphs" >100 x 86</text>
<text x="374" y="316.5" font-family="Liberation Sans" font-size="5" fill="#444" text-anchor="start" textLength="8" lengthAdjust="spacingAndGlyphs" >sa13</text>
<text x="382" y="335" font-family="Liberation Sans" font-size="5" fill="#444" text-anchor="start" textLength="9" lengthAdjust="spacingAndGlyphs" >P530</text>
<text x="234" y="350" font-family="Liberation Sans" font-size="5" fill="#444" text-anchor="start" textLength="4" lengthAdjust="spacingAndGlyphs" >80</text>
<text x="333" y="347" font-family="Liberation Sans" font-size="5" fill="#444" text-anchor="start" textLength="4" lengthAdjust="spacingAndGlyphs" >80</text>
<text x="454" y="306" font-family="Liberation Sans" font-size="5" fill="#444" text-anchor="start" textLength="4" lengthAdjust="spacingAndGlyphs" >80</text>
<text x="521" y="306" font-family="Liberation Sans" font-size="5" fill="#444" text-anchor="start" textLength="4" lengthAdjust="spacingAndGlyphs" >80</text>
<text x="572" y="348" font-family="Liberation Sans" font-size="5" fill="#444" text-anchor="start" textLength="4" lengthAdjust="spacingAndGlyphs" >80</text>
<text x="630" y="318" font-family="Liberation Sans" font-size="5" fill="#444" text-anchor="start" textLength="5" lengthAdjust="spacingAndGlyphs" >70</text>
<text transform="translate(176.5,397) rotate(-90)" x="0" y="0" font-family="Liberation Sans" font-size="5" fill="#555" text-anchor="middle" dominant-baseline="central" textLength="34" lengthAdjust="spacingAndGlyphs">F530 + LdV 100mm</text>
<text transform="translate(306,410) rotate(-90)" x="0" y="0" font-family="Liberation Sans" font-size="5" fill="#555" text-anchor="middle" dominant-baseline="central" textLength="55" lengthAdjust="spacingAndGlyphs">cloison 98 x 48 + LdV40mm</text>
<text transform="translate(413.5,358) rotate(-90)" x="0" y="0" font-family="Liberation Sans" font-size="5" fill="#555" text-anchor="middle" dominant-baseline="central" textLength="24" lengthAdjust="spacingAndGlyphs">SAD 160mm</text>
<text transform="translate(422,214) rotate(-90)" x="0" y="0" font-family="Liberation Sans" font-size="5" fill="#555" text-anchor="middle" dominant-baseline="central" textLength="24" lengthAdjust="spacingAndGlyphs">SAD 160mm</text>
<text transform="translate(577,410) rotate(90)" x="0" y="0" font-family="Liberation Sans" font-size="5" fill="#555" text-anchor="middle" dominant-baseline="central" textLength="34" lengthAdjust="spacingAndGlyphs">F530 + LdV 100mm</text>
<text transform="translate(454.5,421) rotate(-90)" x="0" y="0" font-family="Liberation Sans" font-size="5" fill="#555" text-anchor="middle" dominant-baseline="central" textLength="36" lengthAdjust="spacingAndGlyphs">F530 + LdV 100mm</text>
<text transform="translate(694,410) rotate(90)" x="0" y="0" font-family="Liberation Sans" font-size="5" fill="#555" text-anchor="middle" dominant-baseline="central" textLength="34" lengthAdjust="spacingAndGlyphs">F530 + LdV 100mm</text>
<polygon points="436,337 450,337 443,331" fill="#888" stroke="#333" stroke-width="0.8"/>
<circle cx="443" cy="348" r="5" fill="none" stroke="#444" stroke-width="0.8"/>
<text x="443" y="351" font-family="Liberation Sans" font-size="7" fill="#333" text-anchor="middle" >5</text>
<text x="455" y="352" font-family="Liberation Serif" font-size="7.5" fill="#333" text-anchor="start" textLength="11" lengthAdjust="spacingAndGlyphs" >T3</text>
<polygon points="521,337 535,337 528,331" fill="#888" stroke="#333" stroke-width="0.8"/>
<circle cx="528" cy="348" r="5" fill="none" stroke="#444" stroke-width="0.8"/>
<text x="528" y="351" font-family="Liberation Sans" font-size="7" fill="#333" text-anchor="middle" >6</text>
<text x="540" y="352" font-family="Liberation Serif" font-size="7.5" fill="#333" text-anchor="start" textLength="11" lengthAdjust="spacingAndGlyphs" >T2</text>
<text transform="translate(488,298) rotate(-68)" font-family="Liberation Serif" font-size="6.5" fill="#444" text-anchor="middle" dominant-baseline="central" textLength="30" lengthAdjust="spacingAndGlyphs">PL SOGAL</text>
<text transform="translate(175,164) rotate(-90)" font-family="Liberation Serif" font-size="5.5" fill="#555" text-anchor="middle" dominant-baseline="central" textLength="13" lengthAdjust="spacingAndGlyphs">frigo</text>
<text transform="translate(175,262) rotate(-90)" font-family="Liberation Serif" font-size="6" fill="#555" text-anchor="middle" dominant-baseline="central" textLength="9" lengthAdjust="spacingAndGlyphs">L.V</text>
<text transform="translate(677,166) rotate(90)" font-family="Liberation Serif" font-size="5.5" fill="#555" text-anchor="middle" dominant-baseline="central" textLength="13" lengthAdjust="spacingAndGlyphs">frigo</text>
<text transform="translate(677,213) rotate(-90)" font-family="Liberation Serif" font-size="6" fill="#555" text-anchor="middle" dominant-baseline="central" textLength="9" lengthAdjust="spacingAndGlyphs">L.V</text>
<text x="230" y="257" font-family="Liberation Sans" font-size="5" fill="#444" text-anchor="start" textLength="5" lengthAdjust="spacingAndGlyphs" >80</text>
</svg></body></html>
